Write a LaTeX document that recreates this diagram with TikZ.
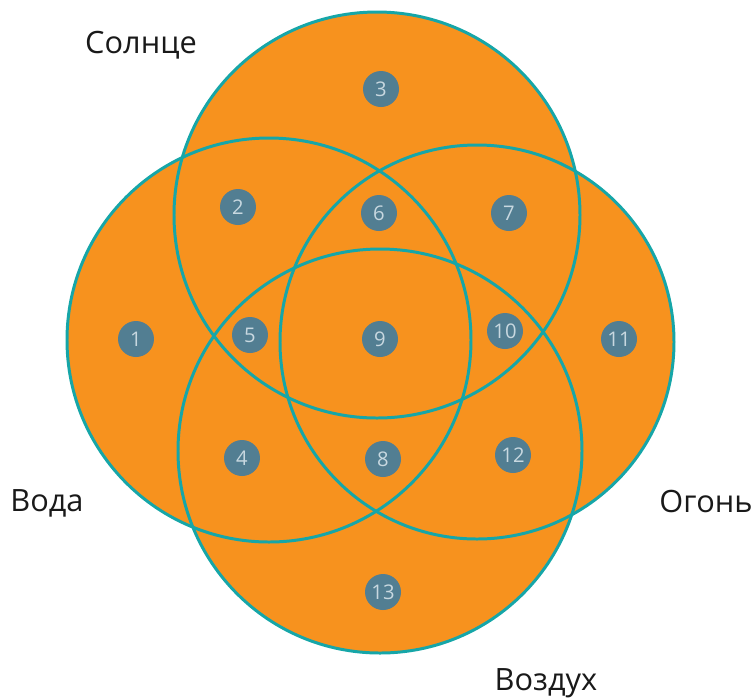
\documentclass[tikz,border=0pt]{standalone}
\usepackage{fontspec}
\setmainfont{Open Sans}
\definecolor{venn}{RGB}{247,146,30}
\definecolor{rim}{RGB}{22,166,168}
\definecolor{badge}{RGB}{82,126,146}
\definecolor{badgetext}{RGB}{200,216,224}

\begin{document}
\begin{tikzpicture}[x=0.02cm, y=0.02cm,
    rimline/.style={draw=rim, line width=1.7pt},
    region/.style={circle, fill=badge, inner sep=0pt, minimum size=0.72cm,
        text=badgetext, font=\fontsize{11.5}{11.5}\selectfont},
    setname/.style={anchor=base, text=black!90, font=\fontsize{17.5}{20}\selectfont}]
    \useasboundingbox (0,0) rectangle (754,-698);

    % Circle centres
    \coordinate (S) at (377,-215);
    \coordinate (V) at (269,-340);
    \coordinate (O) at (477,-342);
    \coordinate (A) at (380,-451);

    % Filled discs
    \fill[venn] (S) circle [radius=203];
    \fill[venn] (V) circle [radius=202];
    \fill[venn] (O) circle [radius=197];
    \fill[venn] (A) circle [radius=202];

    % Outlines
    \draw[rimline] (S) circle [radius=203];
    \draw[rimline] (V) circle [radius=202];
    \draw[rimline] (O) circle [radius=197];
    \draw[rimline] (A) circle [radius=202];

    % Region numbers
    \node[region] (r1) at (136,-339) {1};
    \node[region] (r2) at (238,-207) {2};
    \node[region] (r3) at (381,-89) {3};
    \node[region] (r4) at (242,-458) {4};
    \node[region] (r5) at (250,-335) {5};
    \node[region] (r6) at (379,-213) {6};
    \node[region] (r7) at (509,-213) {7};
    \node[region] (r8) at (383,-459) {8};
    \node[region] (r9) at (380,-339) {9};
    \node[region] (r10) at (505,-331) {10};
    \node[region] (r11) at (619,-339) {11};
    \node[region] (r12) at (513,-455) {12};
    \node[region] (r13) at (383,-592) {13};

    % Set names
    \node[setname] (sun) at (141,-53) {Солнце};
    \node[setname] (water) at (47,-511) {Вода};
    \node[setname] (fire) at (706,-512) {Огонь};
    \node[setname] (air) at (546,-690) {Воздух};
\end{tikzpicture}
\end{document}
